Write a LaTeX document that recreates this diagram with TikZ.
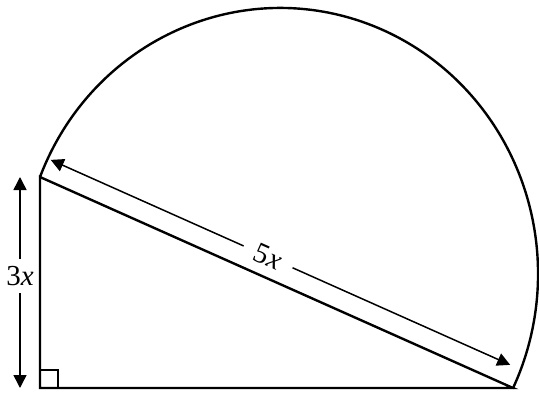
\documentclass[tikz,border=0pt]{standalone}
\usepackage{fontspec}
\setmainfont{Liberation Serif}
\usetikzlibrary{arrows.meta,calc}

\begin{document}
\begin{tikzpicture}[
  x=0.5pt, y=0.5pt,
  edge/.style={line width=1.2pt, line join=miter},
  dimarr/.style={{Triangle[length=6.5pt,width=6.5pt]}-{Triangle[length=6.5pt,width=6.5pt]}, line width=0.75pt},
  lbl/.style={font=\fontsize{14.5}{17}\selectfont, fill=white, inner sep=1pt}
]
  \useasboundingbox (0,0) rectangle (539,392);
  \coordinate (C) at (40,4);
  \coordinate (A) at (40,215);
  \coordinate (B) at (513,4);
  \coordinate (vt) at (20,215);
  \coordinate (vb) at (20,4);
  \coordinate (h1) at ($(A)!10pt!90:(B)$);
  \coordinate (h2) at ($(B)!10pt!-90:(A)$);

  \draw[dimarr] (vb) -- node[lbl, inner ysep=3.5pt, pos=0.53] (len3) {3\textit{x}} (vt);
  \draw[dimarr, shorten <=1.4pt, shorten >=6pt] (h1) -- node[lbl, sloped, inner xsep=6.5pt, pos=0.465] (len5) {5\textit{x}} (h2);

  \draw[edge] (C) -- (A) -- (B) -- cycle;
  \draw[line width=0.8pt] (C) rectangle ++(18,18);
  \draw[edge] (A) arc[start angle=158.63, end angle=-25.41, x radius=257.9, y radius=265.9] -- (B);
\end{tikzpicture}
\end{document}
